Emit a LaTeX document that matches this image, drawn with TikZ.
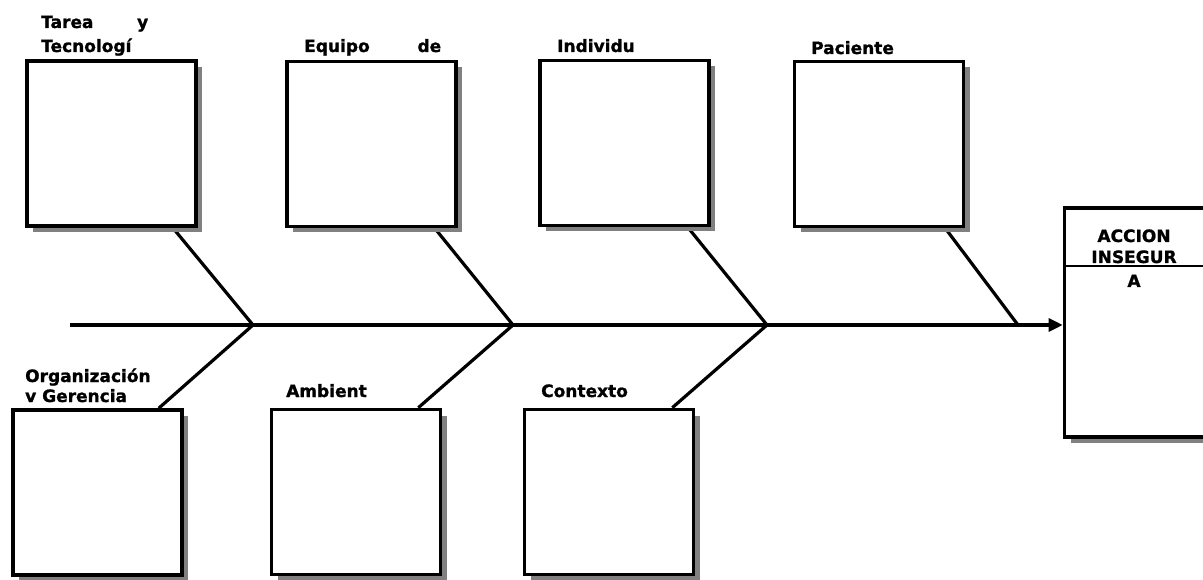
\documentclass[tikz,border=0pt]{standalone}
\usepackage{fontspec}
\setmainfont{DejaVu Sans}[BoldFeatures={FakeBold=1.2}]
\usetikzlibrary{shadows,arrows.meta}
\pgfdeclarelayer{bg}
\pgfsetlayers{bg,main}
\begin{document}
\begin{tikzpicture}[x=1pt,y=-1pt]
\tikzset{
  cbox/.style={draw=black, line width=3.6pt, fill=white, inner sep=0pt,
    minimum width=169pt, minimum height=165pt,
    general shadow={fill=black!50, shadow xshift=6pt, shadow yshift=-6pt}},
  lbl/.style={anchor=base west, inner sep=0pt, font=\fontsize{17}{20}\selectfont\bfseries},
  clbl/.style={anchor=base, inner sep=0pt, font=\fontsize{17}{20}\selectfont\bfseries},
  bone/.style={line width=3.2pt, draw=black},
}
\useasboundingbox (0,0) rectangle (1203,580);
\clip (0,0) rectangle (1203,580);

% boxes
\node[cbox] (t1) at (111.5,143.5) {};
\node[cbox] (t2) at (371.5,144) {};
\node[cbox] (t3) at (624.5,143) {};
\node[cbox] (t4) at (879,144) {};
\node[cbox] (b1) at (97.5,492.5) {};
\node[cbox] (b2) at (356,492) {};
\node[cbox] (b3) at (609,492) {};
\node[cbox, minimum width=150pt, minimum height=229pt] (acc) at (1139.5,322.5) {};

% labels
\node[lbl] (l1a) at (41,28) {\makebox[107pt][l]{Tarea\hfill y}};
\node[lbl] (l1b) at (41,52) {Tecnologí};
\node[lbl] (l2) at (304,52) {\makebox[137pt][l]{Equipo\hfill de}};
\node[lbl] (l3) at (557,52) {Individu};
\node[lbl] (l4) at (811,54) {Paciente};
\node[lbl] (l5a) at (25,382) {Organización};
\node[lbl] (l5b) at (25,402) {v Gerencia};
\node[lbl] (l6) at (286,397) {Ambient};
\node[lbl] (l7) at (541,397) {Contexto};
\node[clbl] (a1) at (1134,242) {ACCION};
\node[clbl] (a2) at (1134,263) {INSEGUR};
\node[clbl] (a3) at (1134,287) {A};

% divider in result box
\coordinate (dv) at (0,266);
\draw[line width=2.4pt] (acc.west |- dv) -- (acc.east |- dv);

% spine and bones
\coordinate (s0) at (70,325);
\coordinate (j1) at (253,325);
\coordinate (j2) at (513,325);
\coordinate (j3) at (767,325);
\coordinate (j4) at (1018,325);
\begin{pgfonlayer}{bg}
\draw[bone, -{Triangle[length=14pt,width=13pt]}] (s0) -- (acc.west |- s0);
\draw[bone] ([xshift=-25pt]t1.south east) -- (j1);
\draw[bone] ([xshift=-23pt]t2.south east) -- (j2);
\draw[bone] ([xshift=-23pt]t3.south east) -- (j3);
\draw[bone] ([xshift=-20pt]t4.south east) -- (j4);
\draw[bone] ([xshift=-25pt]b1.north east) -- (j1);
\draw[bone] ([xshift=-24pt]b2.north east) -- (j2);
\draw[bone] ([xshift=-23pt]b3.north east) -- (j3);
\end{pgfonlayer}
\end{tikzpicture}
\end{document}
